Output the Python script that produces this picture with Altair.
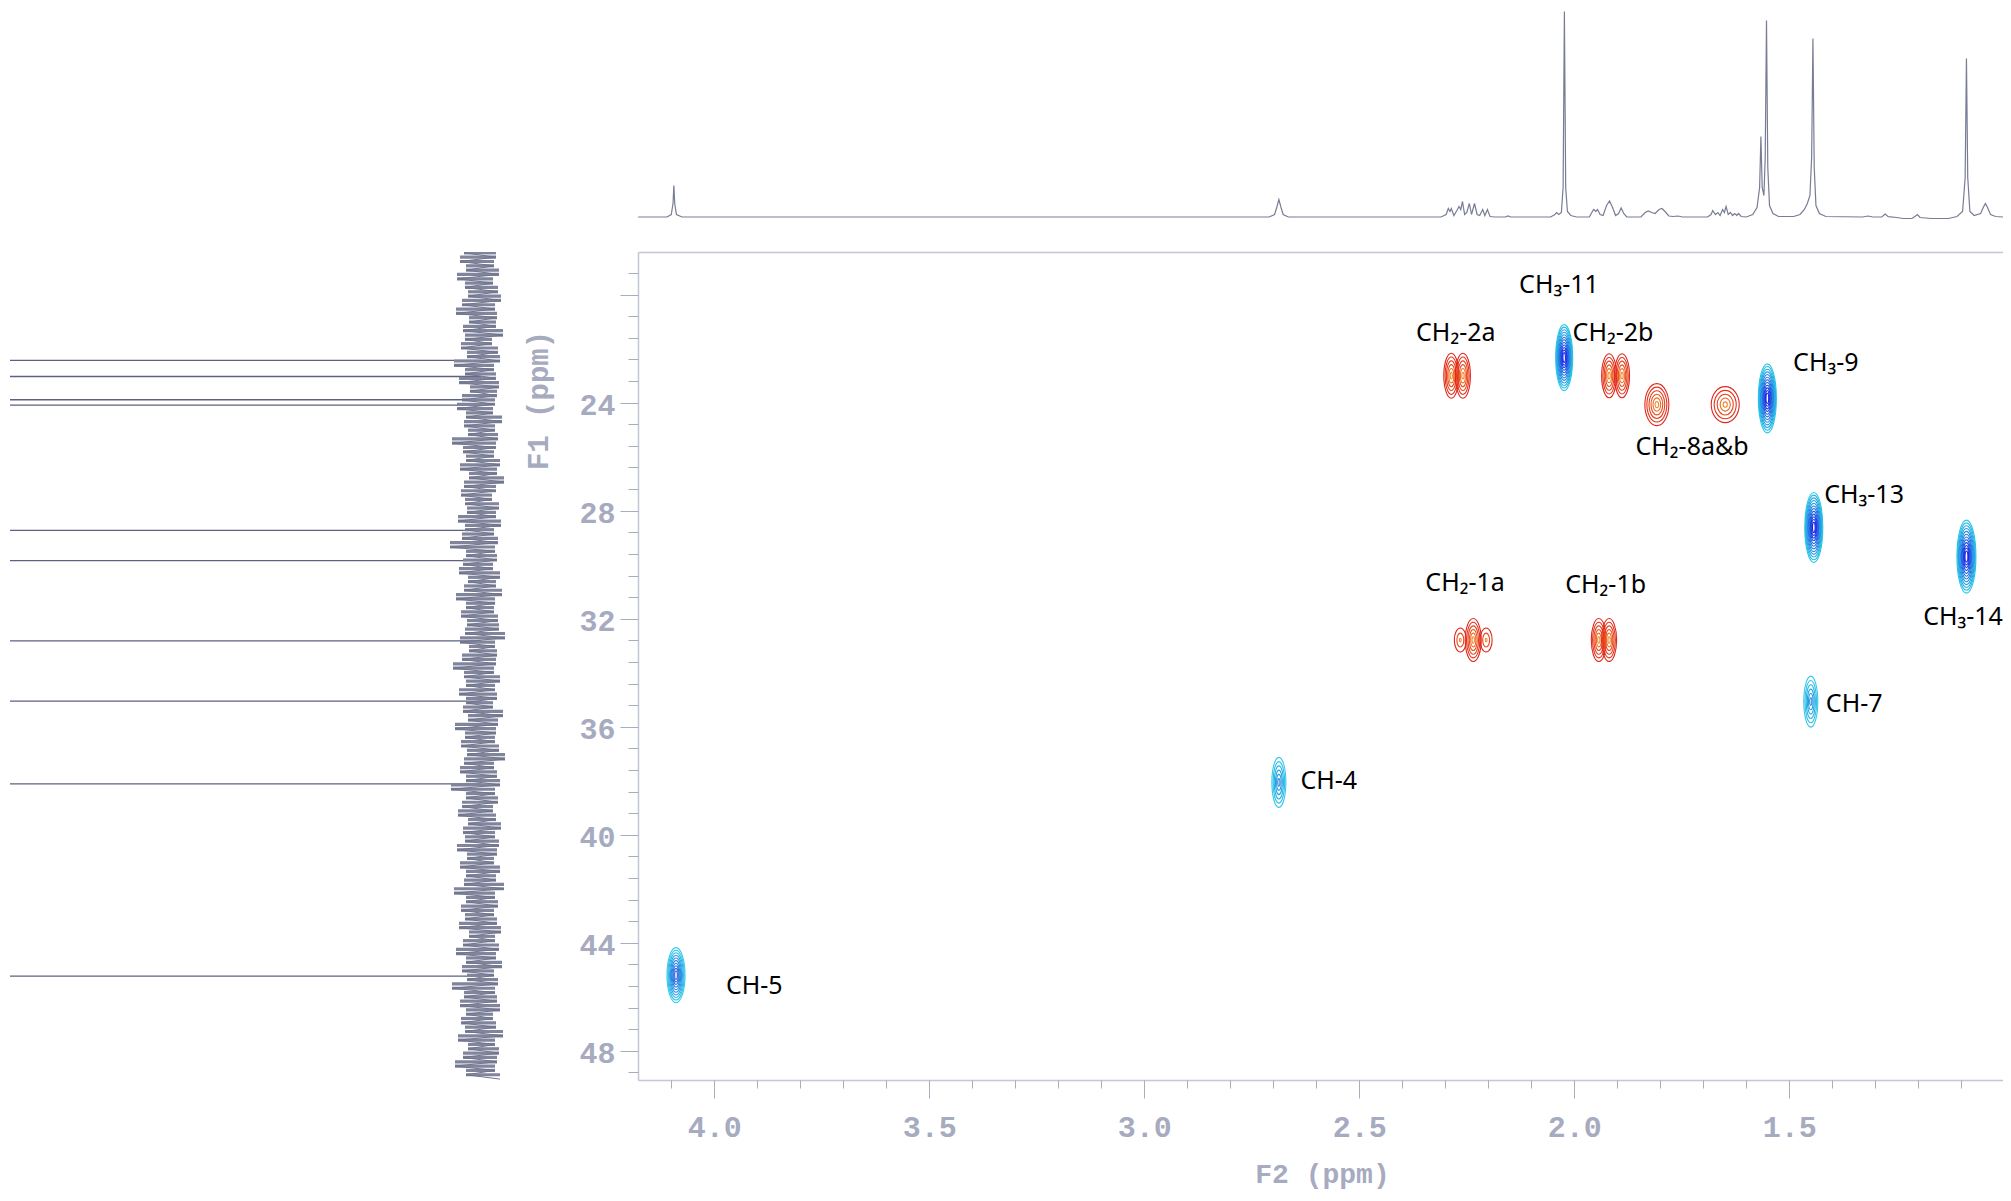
import altair as alt
import pandas as pd

# ---------------- data ----------------
# 1H projection along the top (F2 ppm, height above baseline in trace units)
h1_ppm = [4.177, 4.110, 4.100, 4.096, 4.094, 4.092, 4.088, 4.075,
          2.710, 2.697, 2.692, 2.687, 2.682, 2.677, 2.665,
          2.310, 2.298, 2.293, 2.289, 2.286, 2.280, 2.273, 2.268, 2.264, 2.260, 2.255,
          2.250, 2.244, 2.239, 2.232, 2.226, 2.220, 2.213, 2.208, 2.202, 2.196, 2.185,
          2.160, 2.154, 2.148,
          2.055, 2.045, 2.041, 2.036, 2.030, 2.026, 2.023, 2.020, 2.016, 2.008, 1.995,
          1.965, 1.958, 1.955, 1.950, 1.946, 1.940, 1.933, 1.925, 1.918, 1.911, 1.904,
          1.897, 1.891, 1.885, 1.878,
          1.845, 1.835, 1.828, 1.820, 1.812, 1.803, 1.796, 1.789, 1.780, 1.770, 1.759, 1.748,
          1.690, 1.682, 1.678, 1.672, 1.666, 1.661, 1.655, 1.651, 1.647, 1.642, 1.637,
          1.632, 1.627, 1.622, 1.618, 1.612, 1.600,
          1.585, 1.575, 1.569, 1.566, 1.563, 1.559, 1.556, 1.553, 1.550, 1.546, 1.538, 1.525,
          1.490, 1.475, 1.465, 1.458, 1.452, 1.448, 1.445, 1.442, 1.438, 1.430, 1.415,
          1.330, 1.317, 1.306, 1.285, 1.277, 1.270, 1.250, 1.235, 1.215, 1.208, 1.202, 1.196,
          1.170, 1.130, 1.110, 1.097, 1.091, 1.088, 1.085, 1.080, 1.070,
          1.055, 1.049, 1.044, 1.039, 1.032, 1.020, 1.003]
h1_int = [0.5, 0.5, 3, 14, 32, 14, 3, 0.5,
          0.5, 3, 10, 18, 10, 3, 0.5,
          0.5, 3, 9, 6, 9, 2, 7, 11, 8, 16, 3,
          5, 14, 3, 14, 3, 2, 8, 2, 8, 1, 0.5,
          0.5, 1.5, 0.5,
          0.5, 3, 5, 3, 5, 30, 206, 30, 6, 2, 0.5,
          0.5, 6, 8, 6, 8, 3, 2, 12, 16.5, 10, 2,
          4, 9.5, 4, 0.5,
          0.5, 5, 6.5, 5, 4, 8, 9, 6, 1.5, 1, 1.5, 0.5,
          0.5, 3, 7, 3, 5, 2, 8, 5, 11, 3, 5,
          2, 4, 2, 4, 1, 0.5,
          3, 10, 30, 81, 30, 22, 60, 197, 50, 12, 4, 1,
          1, 3, 8, 14, 22, 60, 179, 50, 12, 4, 1,
          0.5, 1.5, 0.5, 0.5, 3.5, 0.8, 0, -1, -1, 1, 3, 0,
          -1, -1, 1, 6, 40, 159, 40, 6, 2,
          4, 10, 14, 10, 3, 1, 0.5]

# 13C projection on the left (F1 ppm); peaks run far off the panel
c13_ppm = [22.43, 23.03, 23.89, 24.09, 28.73, 29.85, 32.82, 35.05, 38.12, 45.24]
c13_int = [1200, 1100, 1000, 950, 1050, 1150, 1000, 900, 950, 800]
# baseline noise of the 13C trace, top (18.45 ppm) to bottom (49.05 ppm)
noise_int = [17, -15, 21, -13, 15, -18, 24, -12, 16, -17, 13, -20, 19, -14, 25, -16, 12, -15, 18, -22,
             16, -11, 20, -17, 14, -19, 27, -13, 16, -15, 22, -18, 11, -16, 19, -14, 24, -12, 15, -21,
             17, -14, 13, -17, 29, -15, 18, -13, 15, -19, 21, -16, 12, -23, 17, -15, 20, -11, 16, -18,
             14, -15, 23, -20, 16, -13, 19, -17, 31, -14, 15, -16, 18, -12, 22, -19, 13, -15, 17, -21,
             25, -14, 15, -13, 20, -17, 14, -18, 16, -24, 21, -14, 12, -16, 19, -15, 28, -13, 17, -19,
             15, -14, 22, -16, 15, -12, 18, -22, 13, -17, 26, -15, 16, -14, 20, -18, 14, -25, 17, -13,
             21, -16, 15, -19, 30, -14, 15, -17, 19, -12, 23, -15, 13, -20, 18, -14, 16, -18, 24, -16,
             14, -13, 21, -19, 15, -15, 17, -23, 27, -14, 15, -17, 20, -13, 16, -16, 22, -20, 12, -14,
             18, -18, 25, -15, 15, -21, 19, -13, 14, -17, 29, -14, 17, -16, 21, -19, 15, -12, 20, -15,
             16, -22, 23, -14, 13, -18, 18, -16, 26, -14, 15, -19]
noise_top, noise_bottom = 18.45, 49.05

# 2D cross-peak lobes: F2 (1H) ppm, F1 (13C) ppm, phase (+1 CH/CH3, -1 CH2)
lobe_f2 = [2.0235, 1.551, 1.443, 1.088, 4.089, 2.687, 1.450,
           2.286, 2.259, 1.919, 1.889, 1.808, 1.649,
           2.265, 2.205, 2.235, 1.943, 1.919]
lobe_f1 = [22.33, 23.84, 28.62, 29.70, 45.20, 38.06, 35.07,
           23.00, 23.00, 23.00, 23.00, 24.07, 24.07,
           32.79, 32.79, 32.79, 32.79, 32.79]
lobe_sign = [1, 1, 1, 1, 1, 1, 1,
             -1, -1, -1, -1, -1, -1,
             -1, -1, -1, -1, -1]

# peak labels
label_text = ["CH₃-11", "CH₂-2a", "CH₂-2b", "CH₃-9", "CH₂-8a&b", "CH₃-13", "CH₂-1a", "CH₂-1b"]
label_f2 = [2.0356, 2.2756, 1.910, 1.415, 1.726, 1.326, 2.254, 1.927]
label_f1 = [19.64, 21.43, 21.42, 22.54, 25.63, 27.42, 30.69, 30.75]
label2_text = ["CH₃-14", "CH-7", "CH-4", "CH-5"]
label2_f2 = [1.1887, 1.415, 2.637, 3.973]
label2_f1 = [31.93, 35.16, 38.01, 45.61]

# ---------------- styling ----------------
# contour ellipse (width px, height px, levels, palette) per lobe
lobe_w = [17, 18, 18, 19, 18, 14, 14, 15, 15, 15, 15, 24, 28, 12, 12, 16, 15, 15]
lobe_h = [66, 69, 70, 73, 55, 50, 51, 45, 45, 44, 44, 42, 36, 24, 24, 43, 43, 43]
lobe_n = [12, 12, 12, 12, 10, 6, 6, 6, 6, 6, 6, 6, 5, 3, 3, 6, 6, 6]
lobe_pal = ["strong", "strong", "strong", "strong", "medium", "weak", "weak",
            "red", "red", "red", "red", "red", "red", "red", "red", "red", "red", "red"]
palettes = {
    "strong": ["#25c8e6", "#1e78e2", "#1b1fe6"],
    "medium": ["#35d0ea", "#2390e4", "#2a62e0"],
    "weak": ["#35c9ea", "#22aee4", "#1f86df"],
    "red": ["#e2261c", "#e6461e", "#f18a2c"],
}


def hex2rgb(c):
    return [int(c[i:i + 2], 16) for i in (1, 3, 5)]


def mix(stops, t):
    seg = t * (len(stops) - 1)
    i = min(int(seg), len(stops) - 2)
    u = seg - i
    a, b = hex2rgb(stops[i]), hex2rgb(stops[i + 1])
    return "#" + "".join(f"{round(a[k] + (b[k] - a[k]) * u):02x}" for k in range(3))


def ellipse_path(aspect):
    a = f"{aspect:.4f}"
    return f"M-{a},0A{a},1 0 1,0 {a},0A{a},1 0 1,0 -{a},0Z"


rows = []
for j in range(len(lobe_f2)):
    n = lobe_n[j]
    path = ellipse_path(lobe_w[j] / lobe_h[j])
    for k in range(n):
        t = k / (n - 1) if n > 1 else 0
        f = 1 - 0.85 * t
        rows.append({"f2": lobe_f2[j], "f1": lobe_f1[j], "path": path,
                     "sz": (lobe_h[j] * f) ** 2, "col": mix(palettes[lobe_pal[j]], t)})
df_cont = pd.DataFrame(rows)

df_lab = pd.DataFrame({"t": label_text, "f2": label_f2, "f1": label_f1})
df_lab2 = pd.DataFrame({"t": label2_text, "f2": label2_f2, "f1": label2_f1})
df_h1 = pd.DataFrame({"ppm": h1_ppm, "v": h1_int, "i": list(range(len(h1_ppm)))})
step = (noise_bottom - noise_top) / (len(noise_int) - 1)
noise_ppm = [noise_top + step * i for i in range(len(noise_int))]
df_noise = pd.DataFrame({"ppm": noise_ppm, "v": noise_int, "i": list(range(len(noise_int)))})
df_streak = pd.DataFrame({"ppm": noise_ppm[:-1], "v": noise_int[:-1], "v2": noise_int[1:]})
df_c13 = pd.DataFrame({"ppm": c13_ppm, "v": c13_int, "base": [0] * len(c13_ppm)})

W_MAIN, H_MAIN = 1365, 828
W_LEFT, H_TOP = 495, 216

xs = alt.Scale(domain=[1.003, 4.1774], reverse=True, nice=False, zero=False)
ys = alt.Scale(domain=[18.419, 49.084], reverse=True, nice=False, zero=False)
xl = alt.Scale(domain=[-24, 471], reverse=True, nice=False, zero=False)

AX_FONT = "Liberation Mono"
AX_COL = "#a6abbf"
TICK_COL = "#a9adc0"
DOM_COL = "#c3c6d4"

minor_x = [round(1.1 + 0.1 * k, 1) for k in range(31)]
minor_y = [round(24 + 0.8 * k, 1) for k in range(-6, 32)]

ax_x_major = alt.Axis(orient="bottom", values=[1.5, 2.0, 2.5, 3.0, 3.5, 4.0], format=".1f",
                      tickSize=18, tickColor=TICK_COL, tickWidth=1,
                      domain=True, domainColor=DOM_COL, domainWidth=1.5, grid=False,
                      labelFont=AX_FONT, labelFontWeight="bold", labelFontSize=30,
                      labelColor=AX_COL, labelPadding=29, labelBaseline="middle",
                      labelFlush=False, labelOverlap=False,
                      title="F2 (ppm)", titleFont=AX_FONT, titleFontWeight="bold",
                      titleFontSize=28, titleColor=AX_COL, titleX=684, titleY=94,
                      titleAlign="center", titleBaseline="middle")
ax_y_major = alt.Axis(orient="left", values=[20, 24, 28, 32, 36, 40, 44, 48],
                      labelExpr="datum.value == 20 ? '' : format(datum.value, 'd')",
                      tickSize=18, tickColor=TICK_COL, tickWidth=1,
                      domain=True, domainColor=DOM_COL, domainWidth=1.5, grid=False,
                      labelFont=AX_FONT, labelFontWeight="bold", labelFontSize=30,
                      labelColor=AX_COL, labelPadding=5, labelOffset=3,
                      labelFlush=False, labelOverlap=False,
                      title="F1 (ppm)", titleFont=AX_FONT, titleFontWeight="bold",
                      titleFontSize=29, titleColor=AX_COL, titleX=-100, titleY=148,
                      titleAngle=270, titleAlign="center", titleBaseline="middle")
ax_x_minor = alt.Axis(orient="bottom", values=minor_x, labels=False, domain=False,
                      tickSize=8, tickColor=TICK_COL, tickWidth=1, grid=False, title=None)
ax_y_minor = alt.Axis(orient="left", values=minor_y, labels=False, domain=False,
                      tickSize=10, tickColor=TICK_COL, tickWidth=1, grid=False, title=None)
ax_x_top = alt.Axis(orient="top", labels=False, ticks=False, domain=True,
                    domainColor=DOM_COL, domainWidth=1.5, grid=False, title=None)

contours = alt.Chart(df_cont).mark_point(filled=False, opacity=1, strokeWidth=1.1, clip=True).encode(
    x=alt.X("f2:Q", scale=xs, axis=ax_x_major),
    y=alt.Y("f1:Q", scale=ys, axis=ax_y_major),
    shape=alt.Shape("path:N", scale=None),
    size=alt.Size("sz:Q", scale=None),
    color=alt.Color("col:N", scale=None),
)
labels_c = alt.Chart(df_lab).mark_text(font="Noto Sans", fontSize=25, color="black",
                                       align="center", baseline="middle", clip=True).encode(
    x=alt.X("f2:Q", scale=xs, axis=ax_x_minor),
    y=alt.Y("f1:Q", scale=ys, axis=ax_y_minor),
    text="t:N",
)
labels_l = alt.Chart(df_lab2).mark_text(font="Noto Sans", fontSize=25, color="black",
                                        align="left", baseline="middle").encode(
    x=alt.X("f2:Q", scale=xs, axis=ax_x_top),
    y=alt.Y("f1:Q", scale=ys, axis=None),
    text="t:N",
)
main = alt.layer(contours, labels_c, labels_l).resolve_axis(
    x="independent", y="independent").properties(width=W_MAIN, height=H_MAIN)

top = alt.Chart(df_h1).mark_line(color="#787c94", strokeWidth=1.2, clip=True).encode(
    x=alt.X("ppm:Q", scale=xs, axis=None),
    y=alt.Y("v:Q", scale=alt.Scale(domain=[-8.5, 207.5], nice=False, zero=False), axis=None),
    order=alt.Order("i:Q"),
).properties(width=W_MAIN, height=H_TOP)

streaks = alt.Chart(df_streak).mark_rule(color="#80859c", strokeWidth=3.2, clip=True).encode(
    x=alt.X("v:Q", scale=xl, axis=None),
    x2="v2:Q",
    y=alt.Y("ppm:Q", scale=ys, axis=None),
)
noise = alt.Chart(df_noise).mark_line(color="#6f748e", strokeWidth=1.0, clip=True).encode(
    x=alt.X("v:Q", scale=xl, axis=None),
    y=alt.Y("ppm:Q", scale=ys, axis=None),
    order=alt.Order("i:Q"),
)
c13_lines = alt.Chart(df_c13).mark_rule(color="#5d6180", strokeWidth=1.3, clip=True).encode(
    x=alt.X("base:Q", scale=xl, axis=None),
    x2="v:Q",
    y=alt.Y("ppm:Q", scale=ys, axis=None),
)
left = alt.layer(c13_lines, streaks, noise).properties(width=W_LEFT, height=H_MAIN)

spacer = alt.Chart(pd.DataFrame({"v": [0]})).mark_point(opacity=0).encode(
    x=alt.X("v:Q", axis=None), y=alt.Y("v:Q", axis=None)
).properties(width=W_LEFT, height=H_TOP)

chart = alt.concat(spacer, top, left, main, columns=2,
                   spacing={"row": 26, "column": 133}, bounds="flush").properties(
    padding={"left": 2, "top": 2, "right": 0, "bottom": 10},
    background="white",
).configure_view(stroke=None)

chart.save("out.html", embed_options={"renderer": "svg", "actions": False})
